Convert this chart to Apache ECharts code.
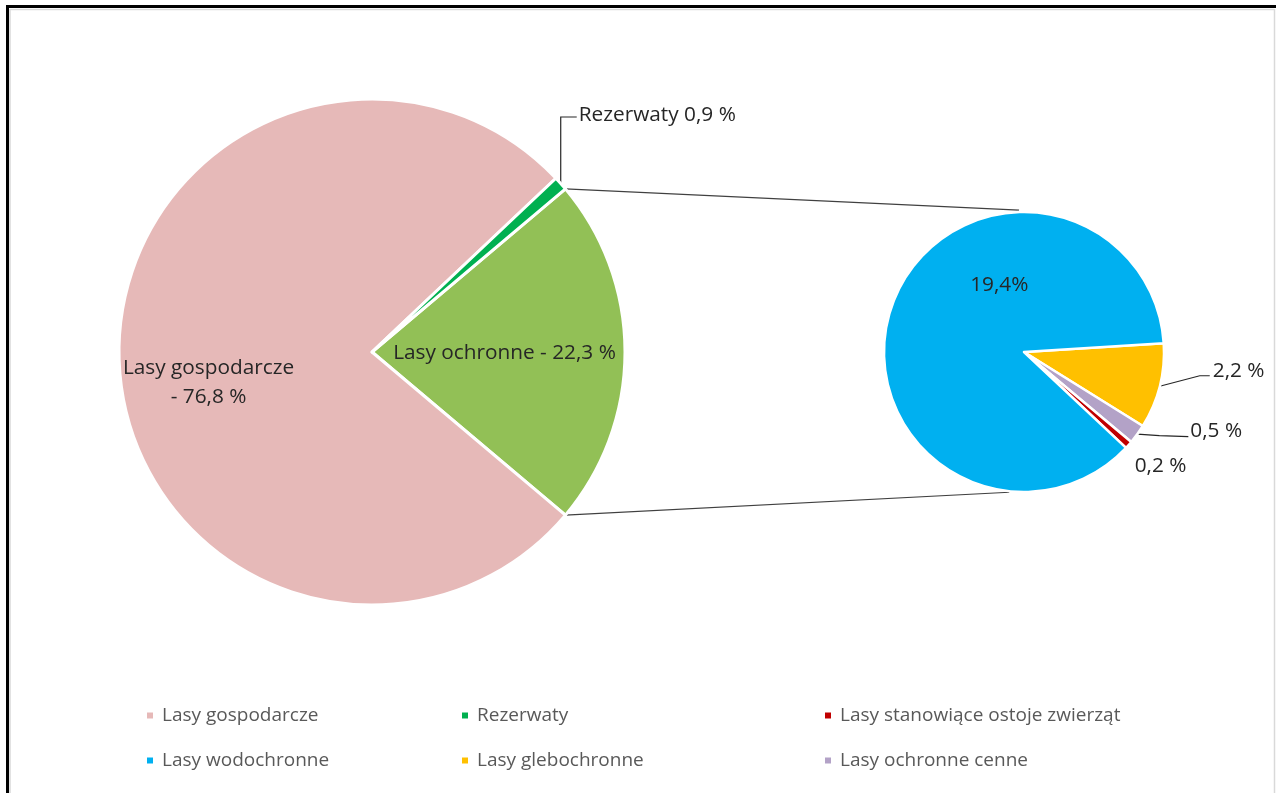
<!DOCTYPE html>
<html>
<head>
<meta charset="utf-8">
<script src="https://cdn.jsdelivr.net/npm/echarts@6/dist/echarts.min.js"></script>
<style>
  html, body { margin: 0; padding: 0; background: #fff; }
  #chart { width: 1276px; height: 793px; }
</style>
</head>
<body>
<div id="chart"></div>
<script>
// Struktura lasów według funkcji (%)
const mainNames = ['Lasy ochronne', 'Lasy gospodarcze', 'Rezerwaty'];
const mainValues = [22.3, 76.8, 0.9];
const mainColors = ['#92C056', '#E6B9B8', '#00B050'];

// Rozbicie lasów ochronnych
const subNames = ['Lasy glebochronne', 'Lasy ochronne cenne', 'Lasy stanowiące ostoje zwierząt', 'Lasy wodochronne'];
const subValues = [2.2, 0.5, 0.2, 19.4];
const subColors = ['#FFC000', '#B3A2C7', '#C00000', '#00B0F0'];

const legendColumns = [
  ['Lasy gospodarcze', 'Lasy wodochronne'],
  ['Rezerwaty', 'Lasy glebochronne'],
  ['Lasy stanowiące ostoje zwierząt', 'Lasy ochronne cenne']
];

// layout
const FONT = '"Open Sans", "Noto Sans", sans-serif';
const MAIN_C = [372, 352], MAIN_R = 253;
const SUB_C = [1024, 352], SUB_R = 140;
const SUB_START = 3.6;

const fmt = v => v.toFixed(1).replace('.', ',');
const mainLabel = {
  'Lasy ochronne': v => 'Lasy ochronne - ' + fmt(v) + ' %',
  'Lasy gospodarcze': v => 'Lasy gospodarcze\n- ' + fmt(v) + ' %',
  'Rezerwaty': v => 'Rezerwaty ' + fmt(v) + ' %'
};
const subLabel = {
  'Lasy wodochronne': v => fmt(v) + '%'
};

// the "ochronne" wedge is centred on the right-hand horizontal
const total = mainValues.reduce((a, b) => a + b, 0);
const halfAngle = mainValues[0] / total * 180;

const chart = echarts.init(document.getElementById('chart'), null, { renderer: 'canvas' });

const innerShift = {
  'Lasy gospodarcze': [-34, 27],
  'Lasy ochronne': [3, 1],
  'Lasy wodochronne': [44, -42]
};
// outside labels: [bend, end] and label offsets from the wedge edge point
const outerShift = {
  'Rezerwaty': { pts: [[0, -66.5], [16, -66.5]], lab: [18, -68] },
  'Lasy glebochronne': { pts: [[40, -10.5], [50, -10.5]], lab: [53, -15] },
  'Lasy ochronne cenne': { pts: [[22, 1.5], [51, 2.5]], lab: [53, -3] },
  'Lasy stanowiące ostoje zwierząt': { pts: null, lab: [6, 21] }
};

function makeLayout(names) {
  return function (params) {
    const name = names[params.dataIndex];
    if (innerShift[name]) {
      return { dx: innerShift[name][0], dy: innerShift[name][1] };
    }
    const o = outerShift[name];
    const p0 = params.labelLinePoints ? params.labelLinePoints[0] : null;
    if (!o || !p0) return {};
    const res = {
      x: p0[0] + o.lab[0],
      y: p0[1] + o.lab[1],
      align: 'left',
      verticalAlign: 'middle'
    };
    if (o.pts) {
      res.labelLinePoints = [
        [p0[0], p0[1]],
        [p0[0] + o.pts[0][0], p0[1] + o.pts[0][1]],
        [p0[0] + o.pts[1][0], p0[1] + o.pts[1][1]]
      ];
    } else {
      res.labelLinePoints = [[p0[0], p0[1]], [p0[0], p0[1]], [p0[0], p0[1]]];
    }
    return res;
  };
}

const rad = d => d * Math.PI / 180;
function onCircle(c, r, deg) {
  return [c[0] + r * Math.cos(rad(deg)), c[1] - r * Math.sin(rad(deg))];
}
const topStart = onCircle(MAIN_C, MAIN_R, halfAngle);
const botStart = onCircle(MAIN_C, MAIN_R, -halfAngle);
const topEnd = onCircle(SUB_C, SUB_R + 2, 92);
const botEnd = onCircle(SUB_C, SUB_R + 1, -96);

const legendBase = {
  orient: 'vertical',
  top: 705,
  padding: 0,
  itemGap: 24,
  icon: 'rect',
  itemWidth: 8,
  itemHeight: 8,
  selectedMode: false,
  textStyle: { fontFamily: FONT, fontSize: 19, color: '#595959', lineHeight: 21, padding: [0, 0, 0, 3] }
};
const legendLefts = [145, 460, 823];

chart.setOption({
  animation: false,
  backgroundColor: '#fff',
  legend: legendColumns.map((col, i) => Object.assign({}, legendBase, { left: legendLefts[i], data: col })),
  graphic: [
    { type: 'line', shape: { x1: 7.5, y1: 5, x2: 7.5, y2: 793 }, style: { stroke: '#000', lineWidth: 3 } },
    { type: 'line', shape: { x1: 6, y1: 6.5, x2: 1276, y2: 6.5 }, style: { stroke: '#000', lineWidth: 3 } },
    { type: 'line', shape: { x1: 10, y1: 9.5, x2: 1274.5, y2: 9.5 }, style: { stroke: '#D9D9D9', lineWidth: 1.5 } },
    { type: 'line', shape: { x1: 10, y1: 9, x2: 10, y2: 793 }, style: { stroke: '#D9D9D9', lineWidth: 1.5 } },
    { type: 'line', shape: { x1: 1274.5, y1: 9, x2: 1274.5, y2: 793 }, style: { stroke: '#D9D9D9', lineWidth: 1.5 } },
    { type: 'line', z: 0, shape: { x1: topStart[0], y1: topStart[1], x2: topEnd[0], y2: topEnd[1] }, style: { stroke: '#404040', lineWidth: 1.2 } },
    { type: 'line', z: 0, shape: { x1: botStart[0], y1: botStart[1], x2: botEnd[0], y2: botEnd[1] }, style: { stroke: '#404040', lineWidth: 1.2 } }
  ],
  series: [
    {
      type: 'pie',
      center: MAIN_C,
      radius: MAIN_R,
      startAngle: halfAngle,
      clockwise: true,
      avoidLabelOverlap: false,
      itemStyle: { borderColor: '#fff', borderWidth: 3 },
      emphasis: { disabled: true },
      data: mainNames.map((n, i) => ({
        name: n,
        value: mainValues[i],
        itemStyle: { color: mainColors[i] },
        label: n === 'Rezerwaty' ? { position: 'outside' } : { position: 'inside' },
        labelLine: { show: n === 'Rezerwaty' }
      })),
      label: {
        fontFamily: FONT, fontSize: 20.8, color: '#262626', lineHeight: 29, align: 'center',
        formatter: p => mainLabel[p.name](p.value)
      },
      labelLine: { length: 20, length2: 10, lineStyle: { color: '#262626', width: 1.2 } },
      labelLayout: makeLayout(mainNames)
    },
    {
      type: 'pie',
      center: SUB_C,
      radius: SUB_R,
      startAngle: SUB_START,
      clockwise: true,
      avoidLabelOverlap: false,
      itemStyle: { borderColor: '#fff', borderWidth: 2.5 },
      emphasis: { disabled: true },
      data: subNames.map((n, i) => ({
        name: n,
        value: subValues[i],
        itemStyle: { color: subColors[i] },
        label: n === 'Lasy wodochronne' ? { position: 'inside' } : { position: 'outside' },
        labelLine: n === 'Lasy stanowiące ostoje zwierząt'
          ? { show: true, lineStyle: { opacity: 0, width: 0 } }
          : { show: n !== 'Lasy wodochronne' }
      })),
      label: {
        fontFamily: FONT, fontSize: 20.8, color: '#262626',
        formatter: p => (subLabel[p.name] ? subLabel[p.name](p.value) : fmt(p.value) + ' %')
      },
      labelLine: { length: 20, length2: 10, lineStyle: { color: '#262626', width: 1.2 } },
      labelLayout: makeLayout(subNames)
    }
  ]
});
</script>
</body>
</html>
